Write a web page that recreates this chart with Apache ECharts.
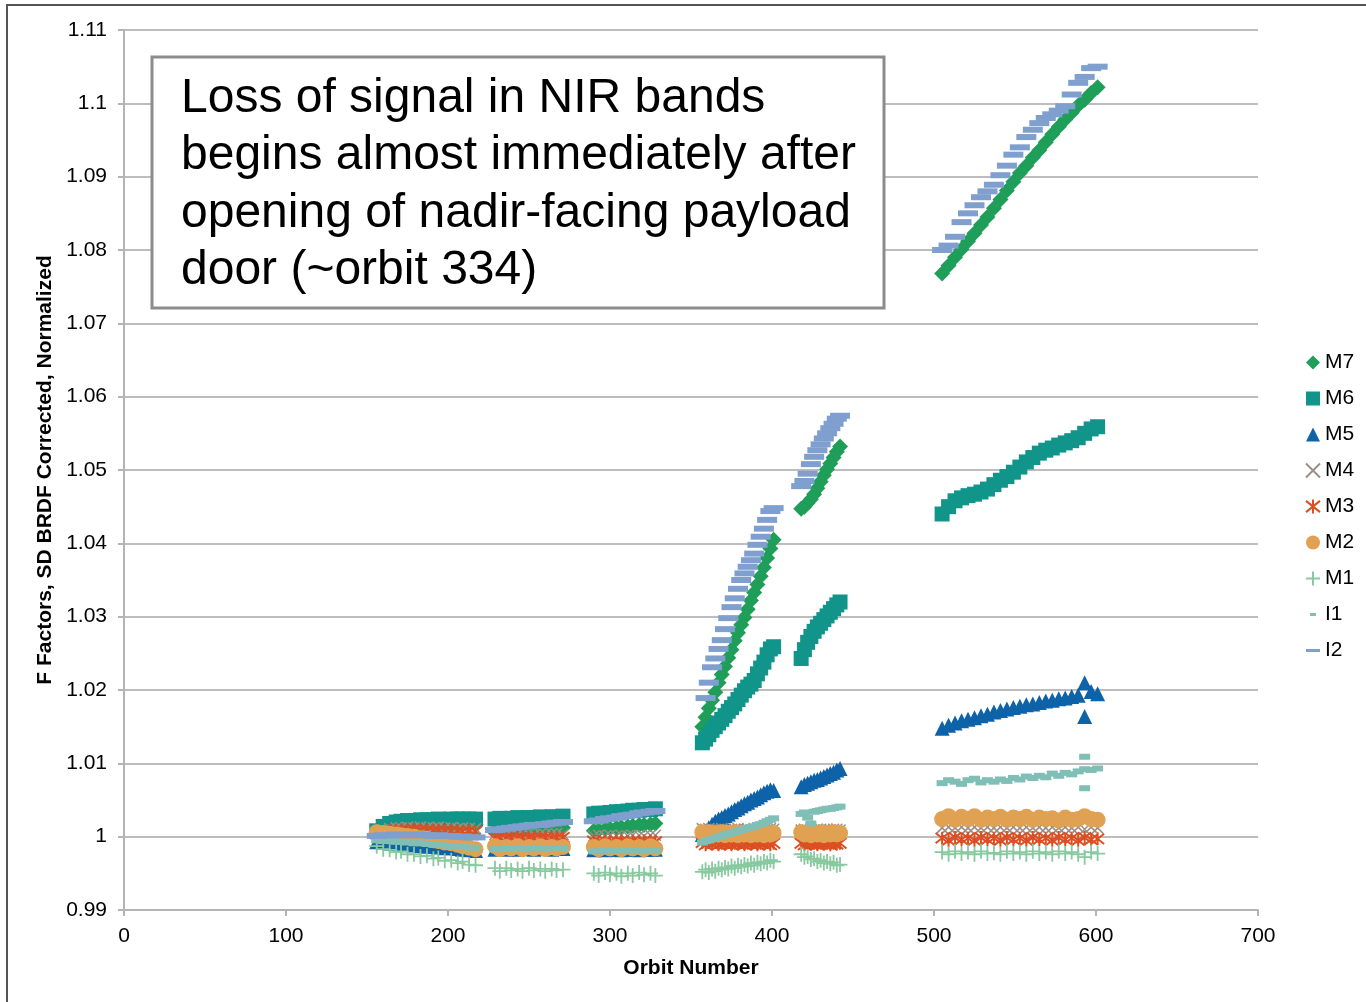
<!DOCTYPE html>
<html>
<head>
<meta charset="utf-8">
<script src="https://cdn.jsdelivr.net/npm/echarts@6/dist/echarts.min.js"></script>
<style>
html,body{margin:0;padding:0;background:#fff;}
#chart{width:1366px;height:1002px;}
</style>
</head>
<body>
<div id="chart"></div>
<script>
// Orbit numbers (x) for each sampled point, grouped by the six data segments
const orbits = [
  156,160,164,168,171,175,179,183,187,191,194,198,202,206,209,213,217,
  229,232,236,239,243,246,250,253,257,260,264,267,271,
  290,293,297,300,304,307,311,314,318,321,325,328,
  357,359,361,363,365,367,369,371,373,375,377,379,381,383,385,387,389,391,393,395,397,399,401,
  418,420,422,424,426,428,430,432,434,436,438,440,442,
  505,509,513,517,521,525,529,533,537,541,545,549,553,557,561,565,569,573,577,581,585,589,593,597,601
];

const m7 = [
  1.0004,1.0008,1.0010,1.0012,1.0013,1.0013,1.0014,1.0014,1.0015,1.0015,1.0015,1.0016,1.0016,1.0016,1.0017,1.0017,1.0017,
  1.0008,1.0009,1.0008,1.0010,1.0009,1.0010,1.0011,1.0010,1.0011,1.0012,1.0011,1.0012,1.0012,
  1.0008,1.0009,1.0010,1.0011,1.0012,1.0013,1.0014,1.0015,1.0016,1.0016,1.0017,1.0018,
  1.0150,1.0163,1.0175,1.0186,1.0197,1.0210,1.0221,1.0232,1.0244,1.0255,1.0267,1.0278,1.0289,1.0299,1.0310,1.0322,1.0333,1.0344,1.0355,1.0367,1.0380,1.0393,1.0405,
  1.0447,1.0450,1.0455,1.0460,1.0467,1.0475,1.0484,1.0493,1.0501,1.0509,1.0517,1.0525,1.0532,
  1.0768,1.0779,1.0790,1.0801,1.0812,1.0823,1.0834,1.0845,1.0857,1.0869,1.0881,1.0893,1.0905,1.0915,1.0926,1.0936,1.0947,1.0958,1.0968,1.0978,1.0987,1.0997,1.1005,1.1014,1.1022
];
const m6 = [
  1.0008,1.0014,1.0018,1.0020,1.0021,1.0022,1.0022,1.0023,1.0023,1.0023,1.0024,1.0023,1.0024,1.0024,1.0024,1.0024,1.0024,
  1.0024,1.0025,1.0024,1.0025,1.0026,1.0025,1.0026,1.0026,1.0027,1.0026,1.0027,1.0027,1.0028,
  1.0031,1.0032,1.0032,1.0033,1.0034,1.0034,1.0035,1.0036,1.0036,1.0037,1.0037,1.0038,
  1.0128,1.0133,1.0139,1.0145,1.0150,1.0155,1.0160,1.0165,1.0171,1.0176,1.0181,1.0187,1.0193,1.0199,1.0204,1.0208,1.0213,1.0222,1.0230,1.0238,1.0248,1.0256,1.0259,
  1.0243,1.0255,1.0265,1.0273,1.0280,1.0286,1.0291,1.0296,1.0301,1.0306,1.0311,1.0316,1.0320,
  1.0440,1.0450,1.0458,1.0462,1.0465,1.0467,1.0470,1.0474,1.0480,1.0486,1.0491,1.0497,1.0504,1.0511,1.0517,1.0523,1.0527,1.0530,1.0534,1.0537,1.0540,1.0544,1.0550,1.0556,1.0559
];
const m5 = [
  0.9993,0.9992,0.9991,0.9991,0.9990,0.9989,0.9989,0.9988,0.9987,0.9987,0.9986,0.9985,0.9985,0.9984,0.9983,0.9982,0.9981,
  0.9983,0.9984,0.9983,0.9984,0.9983,0.9984,0.9984,0.9983,0.9984,0.9984,0.9983,0.9984,0.9984,
  0.9982,0.9983,0.9982,0.9983,0.9983,0.9982,0.9983,0.9983,0.9982,0.9983,0.9983,0.9983,
  1.0003,1.0007,1.0012,1.0017,1.0021,1.0024,1.0026,1.0029,1.0031,1.0034,1.0037,1.0039,1.0042,1.0045,1.0047,1.0050,1.0052,1.0054,1.0057,1.0060,1.0062,1.0064,1.0063,
  1.0068,1.0071,1.0073,1.0075,1.0077,1.0078,1.0080,1.0082,1.0084,1.0086,1.0088,1.0091,1.0093,
  1.0148,1.0152,1.0155,1.0158,1.0160,1.0162,1.0165,1.0167,1.0170,1.0172,1.0174,1.0176,1.0178,1.0180,1.0181,1.0183,1.0185,1.0186,1.0188,1.0189,1.0191,1.0193,1.0210,1.0198,1.0195
];
const m4 = [
  1.0006,1.0009,1.0011,1.0012,1.0012,1.0013,1.0012,1.0013,1.0012,1.0012,1.0013,1.0012,1.0012,1.0011,1.0012,1.0011,1.0011,
  1.0003,1.0004,1.0003,1.0004,1.0003,1.0004,1.0004,1.0003,1.0004,1.0003,1.0004,1.0004,1.0003,
  1.0001,1.0002,1.0001,1.0002,1.0001,1.0002,1.0001,1.0002,1.0002,1.0001,1.0002,1.0002,
  1.0011,1.0010,1.0011,1.0010,1.0009,1.0010,1.0011,1.0010,1.0009,1.0010,1.0010,1.0011,1.0009,1.0010,1.0010,1.0009,1.0011,1.0010,1.0010,1.0009,1.0010,1.0011,1.0010,
  1.0009,1.0010,1.0009,1.0010,1.0009,1.0010,1.0010,1.0009,1.0010,1.0009,1.0010,1.0010,1.0009,
  1.0012,1.0013,1.0012,1.0013,1.0012,1.0013,1.0012,1.0013,1.0012,1.0013,1.0012,1.0013,1.0012,1.0013,1.0012,1.0013,1.0012,1.0013,1.0012,1.0013,1.0012,1.0013,1.0010,1.0013,1.0012
];
const m3 = [
  1.0004,1.0007,1.0008,1.0009,1.0009,1.0009,1.0010,1.0009,1.0009,1.0008,1.0009,1.0008,1.0008,1.0008,1.0007,1.0008,1.0007,
  0.9998,0.9999,0.9998,0.9999,0.9998,0.9999,0.9999,0.9998,0.9999,0.9999,0.9998,0.9999,0.9999,
  0.9994,0.9993,0.9994,0.9993,0.9994,0.9994,0.9993,0.9994,0.9993,0.9994,0.9994,0.9993,
  0.9992,0.9989,0.9992,0.9990,0.9992,0.9989,0.9991,0.9990,0.9992,0.9989,0.9991,0.9990,0.9992,0.9989,0.9991,0.9990,0.9992,0.9989,0.9991,0.9990,0.9992,0.9989,0.9991,
  0.9991,0.9989,0.9991,0.9990,0.9991,0.9989,0.9991,0.9990,0.9991,0.9989,0.9991,0.9990,0.9991,
  0.9998,0.9995,0.9999,0.9996,0.9998,0.9995,0.9999,0.9996,0.9998,0.9995,0.9999,0.9996,0.9998,0.9995,0.9999,0.9996,0.9998,0.9995,0.9999,0.9996,0.9998,0.9995,0.9999,0.9996,0.9997
];
const m2 = [
  1.0006,1.0005,1.0004,1.0003,1.0002,1.0001,1.0000,0.9998,0.9997,0.9995,0.9994,0.9992,0.9991,0.9989,0.9987,0.9985,0.9983,
  0.9987,0.9983,0.9986,0.9984,0.9987,0.9983,0.9986,0.9984,0.9987,0.9983,0.9986,0.9984,0.9986,
  0.9986,0.9983,0.9987,0.9984,0.9986,0.9983,0.9987,0.9984,0.9986,0.9983,0.9987,0.9984,
  1.0006,1.0003,1.0006,1.0002,1.0005,1.0003,1.0006,1.0002,1.0005,1.0003,1.0006,1.0002,1.0005,1.0003,1.0006,1.0002,1.0005,1.0003,1.0006,1.0002,1.0005,1.0003,1.0005,
  1.0006,1.0003,1.0006,1.0002,1.0005,1.0003,1.0006,1.0002,1.0005,1.0003,1.0006,1.0003,1.0005,
  1.0024,1.0028,1.0023,1.0027,1.0024,1.0028,1.0023,1.0026,1.0024,1.0027,1.0023,1.0026,1.0024,1.0027,1.0023,1.0026,1.0024,1.0025,1.0022,1.0026,1.0023,1.0024,1.0028,1.0024,1.0023
];
const m1 = [
  0.9987,0.9983,0.9982,0.9979,0.9980,0.9976,0.9976,0.9973,0.9974,0.9970,0.9971,0.9967,0.9968,0.9964,0.9966,0.9962,0.9961,
  0.9957,0.9953,0.9957,0.9954,0.9956,0.9953,0.9957,0.9954,0.9956,0.9953,0.9956,0.9954,0.9955,
  0.9950,0.9947,0.9951,0.9948,0.9950,0.9946,0.9950,0.9947,0.9951,0.9948,0.9950,0.9947,
  0.9952,0.9955,0.9951,0.9956,0.9953,0.9957,0.9955,0.9958,0.9956,0.9960,0.9957,0.9961,0.9959,0.9962,0.9960,0.9964,0.9961,0.9965,0.9963,0.9966,0.9964,0.9968,0.9966,
  0.9976,0.9972,0.9973,0.9969,0.9970,0.9966,0.9968,0.9964,0.9966,0.9963,0.9965,0.9961,0.9962,
  0.9979,0.9976,0.9980,0.9977,0.9979,0.9976,0.9980,0.9977,0.9978,0.9976,0.9980,0.9977,0.9979,0.9976,0.9980,0.9977,0.9979,0.9976,0.9980,0.9977,0.9979,0.9976,0.9972,0.9979,0.9977
];
const i1 = [
  0.9995,0.9994,0.9994,0.9993,0.9993,0.9992,0.9991,0.9991,0.9990,0.9989,0.9989,0.9988,0.9987,0.9987,0.9986,0.9985,0.9985,
  0.9983,0.9983,0.9984,0.9983,0.9984,0.9984,0.9983,0.9984,0.9984,0.9983,0.9984,0.9984,0.9984,
  0.9980,0.9980,0.9981,0.9980,0.9981,0.9981,0.9980,0.9981,0.9981,0.9980,0.9981,0.9981,
  0.9992,0.9994,0.9995,0.9997,0.9998,1.0000,1.0001,1.0003,1.0004,1.0005,1.0006,1.0008,1.0009,1.0010,1.0012,1.0013,1.0014,1.0016,1.0017,1.0019,1.0021,1.0023,1.0025,
  1.0031,1.0033,1.0026,1.0018,1.0034,1.0035,1.0036,1.0037,1.0038,1.0038,1.0039,1.0040,1.0041,
  1.0073,1.0077,1.0075,1.0072,1.0077,1.0079,1.0074,1.0077,1.0075,1.0078,1.0076,1.0080,1.0078,1.0082,1.0080,1.0083,1.0081,1.0086,1.0083,1.0087,1.0085,1.0089,1.0092,1.0091,1.0093
];
const i2 = [
  1.0001,1.0002,1.0002,1.0003,1.0002,1.0002,1.0003,1.0002,1.0002,1.0001,1.0002,1.0001,1.0001,1.0000,1.0000,0.9999,0.9999,
  1.0009,1.0010,1.0011,1.0012,1.0013,1.0014,1.0015,1.0016,1.0016,1.0017,1.0018,1.0019,1.0020,
  1.0021,1.0022,1.0024,1.0025,1.0026,1.0028,1.0029,1.0030,1.0032,1.0033,1.0034,1.0035,
  null,1.0189,1.0210,1.0231,1.0243,1.0256,1.0268,1.0283,1.0298,1.0313,1.0325,1.0338,1.0350,1.0359,1.0368,1.0377,1.0386,1.0398,1.0409,1.0420,1.0432,1.0444,1.0448,
  1.0478,1.0485,1.0495,1.0508,1.0518,1.0527,1.0535,1.0543,1.0550,1.0557,1.0563,1.0570,1.0574,
  1.0800,1.0806,1.0818,1.0838,1.0850,1.0861,1.0872,1.0880,1.0889,1.0902,1.0915,1.0930,1.0940,1.0954,1.0964,1.0973,1.0980,1.0985,1.0990,1.0996,1.1012,1.1028,1.1036,1.1048,1.1050
];
// isolated outlier readings [orbit, value]
const m5Extra = [[593, 1.0164]];
const i1Extra = [[593, 1.0109], [593, 1.0066]];

const legendNames = ['M7','M6','M5','M4','M3','M2','M1','I1','I2'];
const noteLines = [
  'Loss of signal in NIR bands',
  'begins almost immediately after',
  'opening of nadir-facing payload',
  'door (~orbit 334)'
];

function pairs(vals, extra) {
  const out = [];
  for (let k = 0; k < orbits.length; k++) {
    if (vals[k] !== null) out.push([orbits[k], vals[k]]);
  }
  return extra ? out.concat(extra) : out;
}

const FONT = "'Liberation Sans', Arial, sans-serif";
const styles = {
  M7: {symbol:'diamond', size:16, color:'#1F9E5A'},
  M6: {symbol:'rect', size:15, color:'#11958A'},
  M5: {symbol:'triangle', size:15, color:'#0D62A8'},
  M4: {symbol:'path://M0,0L10,10M10,0L0,10', size:11, stroke:'#9a8e86', lw:1.5},
  M3: {symbol:'path://M5,0L5,10M0,1L10,9M10,1L0,9', size:13, stroke:'#DC4F22', lw:2},
  M2: {symbol:'circle', size:16, color:'#E0A252'},
  M1: {symbol:'path://M5,0L5,10M0,5L10,5', size:15, stroke:'#88C9A0', lw:1.8},
  I1: {symbol:'rect', size:[11,6], color:'#80BFB6'},
  I2: {symbol:'rect', size:[20,6], color:'#7F9FCE'}
};
const dataMap = {
  M7: pairs(m7), M6: pairs(m6), M5: pairs(m5, m5Extra), M4: pairs(m4),
  M3: pairs(m3), M2: pairs(m2), M1: pairs(m1), I1: pairs(i1, i1Extra), I2: pairs(i2)
};

const series = legendNames.map(function (n) {
  const s = styles[n];
  const itemStyle = s.stroke
    ? {color: 'rgba(0,0,0,0)', borderColor: s.stroke, borderWidth: s.lw, opacity: 1}
    : {color: s.color, opacity: 1};
  return {
    name: n,
    type: 'scatter',
    symbol: s.symbol,
    symbolSize: s.size,
    itemStyle: itemStyle,
    data: dataMap[n],
    silent: true,
    animation: false
  };
});

const legendIcons = {
  I1: 'path://M0,0M14,14M4,5.5h6v3h-6z',
  I2: 'path://M0,0M14,14M0,5.5h14v3h-14z'
};

const chart = echarts.init(document.getElementById('chart'));
chart.setOption({
  animation: false,
  backgroundColor: '#ffffff',
  textStyle: {fontFamily: FONT},
  grid: {left: 124, top: 30, width: 1134, height: 880, containLabel: false},
  xAxis: {
    type: 'value', min: 0, max: 700, interval: 100,
    name: 'Orbit Number', nameLocation: 'middle', nameGap: 48,
    nameTextStyle: {fontSize: 21, fontWeight: 'bold', color: '#000', fontFamily: FONT},
    axisLine: {show: true, lineStyle: {color: '#b4b4b4', width: 2}},
    axisTick: {show: true, inside: false, length: 6, lineStyle: {color: '#b4b4b4', width: 2}},
    axisLabel: {fontSize: 21, color: '#000', margin: 16, fontFamily: FONT},
    splitLine: {show: false}
  },
  yAxis: {
    type: 'value', min: 0.99, max: 1.11, interval: 0.01,
    name: 'F Factors, SD BRDF Corrected, Normalized', nameLocation: 'middle', nameGap: 63,
    nameTextStyle: {fontSize: 21, fontWeight: 'bold', color: '#000', fontFamily: FONT},
    axisLine: {show: true, lineStyle: {color: '#b4b4b4', width: 2}},
    axisTick: {show: true, inside: false, length: 6, lineStyle: {color: '#b4b4b4', width: 2}},
    axisLabel: {fontSize: 21, color: '#000', margin: 17, fontFamily: FONT,
      formatter: function (v) { return String(parseFloat(v.toFixed(2))); }},
    splitLine: {show: true, lineStyle: {color: '#bdbdbd', width: 2}}
  },
  legend: {
    orient: 'vertical', left: 1300, top: 347,
    itemWidth: 14, itemHeight: 14, itemGap: 15,
    selectedMode: false,
    textStyle: {fontSize: 21, color: '#000', lineHeight: 21, fontFamily: FONT},
    data: legendNames.map(function (n) {
      return legendIcons[n] ? {name: n, icon: legendIcons[n]} : {name: n};
    })
  },
  graphic: [
    {type: 'rect', z: 100, shape: {x: 7, y: 5, width: 1400, height: 1100},
     style: {fill: 'none', stroke: '#555555', lineWidth: 2}, silent: true},
    {type: 'rect', z: 100, shape: {x: 152, y: 57, width: 732, height: 251},
     style: {fill: '#ffffff', stroke: '#8c8c8c', lineWidth: 3}, silent: true}
  ].concat(noteLines.map(function (t, k) {
    return {type: 'text', z: 101, x: 181, y: 99 + k * 57.2, silent: true,
      style: {text: t, font: '48px ' + FONT, fill: '#000', verticalAlign: 'middle', align: 'left'}};
  })),
  series: series
});
</script>
</body>
</html>
